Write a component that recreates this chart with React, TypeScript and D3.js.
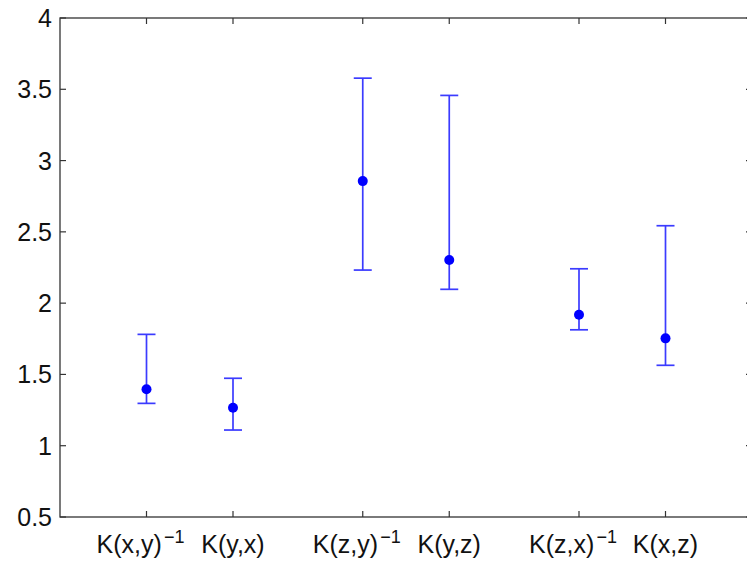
import React from "react";
import * as d3 from "d3";

// group positions on the x axis and their labels
const positions = [1, 2, 3.5, 4.5, 6, 7];
const labelBase = ["K(x,y)", "K(y,x)", "K(z,y)", "K(y,z)", "K(z,x)", "K(x,z)"];
const labelSup = ["−1", "", "−1", "", "−1", ""];

// estimates with lower / upper bounds
const means = [1.396, 1.266, 2.856, 2.302, 1.919, 1.753];
const lowers = [1.297, 1.11, 2.232, 2.097, 1.813, 1.564];
const uppers = [1.781, 1.473, 3.578, 3.457, 2.241, 2.543];

const yTicks = [0.5, 1, 1.5, 2, 2.5, 3, 3.5, 4];

export default function App() {
  const width = 747;
  const height = 572;
  const left = 60;
  const top = 18;
  const bottom = 517;
  const right = 752; // axis box runs just past the window edge

  const x = d3.scaleLinear().domain([0, 8]).range([left, right]);
  const y = d3.scaleLinear().domain([0.5, 4]).range([bottom, top]);

  const axisColor = "#333";
  const tickLen = 6;
  const capHalf = 9;
  const font = "'Liberation Sans', Arial, Helvetica, sans-serif";

  return (
    <div style={{ position: "absolute", left: 0, top: 0 }}>
      <svg width={width} height={height} style={{ display: "block", background: "#fff" }}>
        {/* error bars */}
        {positions.map((p, i) => {
          const cx = x(p);
          return (
            <g key={"eb" + i} stroke="#3b3bff" strokeWidth={1.7}>
              <line x1={cx} x2={cx} y1={y(lowers[i])} y2={y(uppers[i])} />
              <line x1={cx - capHalf} x2={cx + capHalf} y1={y(lowers[i])} y2={y(lowers[i])} />
              <line x1={cx - capHalf} x2={cx + capHalf} y1={y(uppers[i])} y2={y(uppers[i])} />
            </g>
          );
        })}
        {positions.map((p, i) => (
          <circle key={"pt" + i} cx={x(p)} cy={y(means[i])} r={5} fill="#0000ff" />
        ))}

        {/* axes box */}
        <rect
          x={left}
          y={top}
          width={right - left}
          height={bottom - top}
          fill="none"
          stroke={axisColor}
          strokeWidth={1.3}
        />

        {/* y ticks */}
        {yTicks.map((t) => (
          <g key={"yt" + t}>
            <line x1={left} x2={left + tickLen} y1={y(t)} y2={y(t)} stroke={axisColor} strokeWidth={1.2} />
            <line x1={right} x2={right - tickLen} y1={y(t)} y2={y(t)} stroke={axisColor} strokeWidth={1.2} />
            <text
              x={left - 8}
              y={y(t)}
              dy="0.36em"
              textAnchor="end"
              fontFamily={font}
              fontSize={25}
              fill="#111"
            >
              {t}
            </text>
          </g>
        ))}

        {/* x ticks and labels */}
        {positions.map((p, i) => (
          <g key={"xt" + i}>
            <line x1={x(p)} x2={x(p)} y1={bottom} y2={bottom - tickLen} stroke={axisColor} strokeWidth={1.2} />
            <line x1={x(p)} x2={x(p)} y1={top} y2={top + tickLen} stroke={axisColor} strokeWidth={1.2} />
            <text
              x={x(p) + (labelSup[i] ? -6 : 0)}
              y={553}
              textAnchor="middle"
              fontFamily={font}
              fontSize={25}
              fill="#111"
            >
              {labelBase[i]}
              {labelSup[i] && (
                <tspan dy={-10} dx={2} fontSize={18}>
                  {labelSup[i]}
                </tspan>
              )}
            </text>
          </g>
        ))}
      </svg>
    </div>
  );
}
